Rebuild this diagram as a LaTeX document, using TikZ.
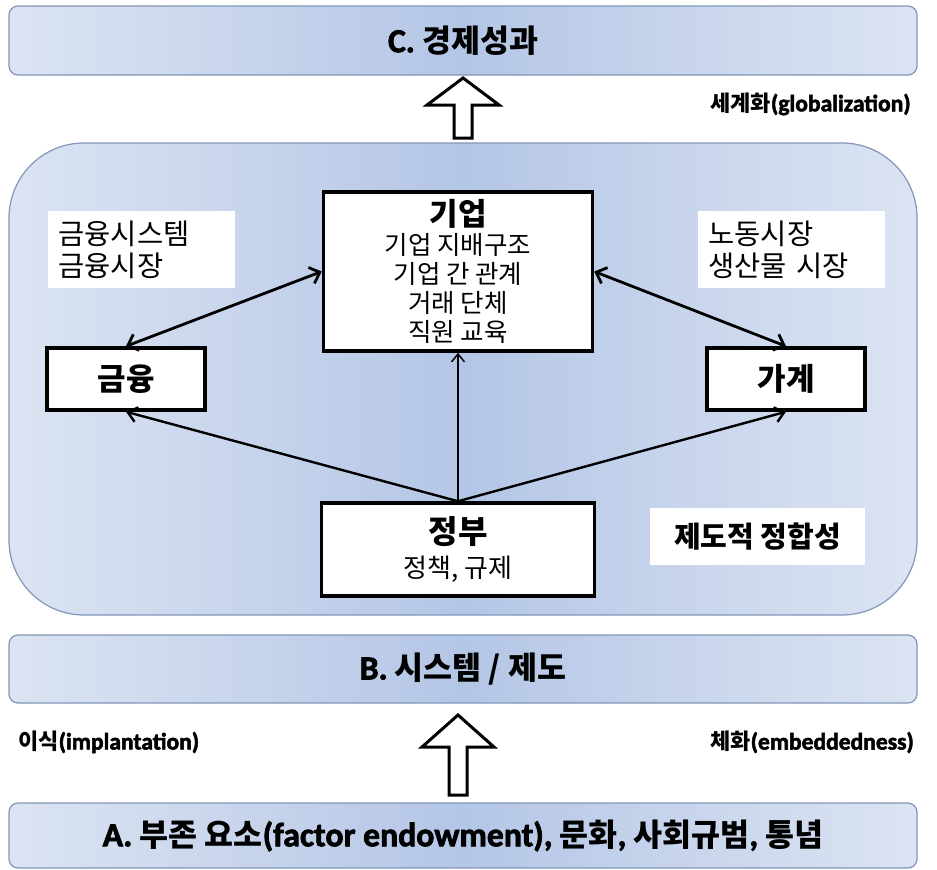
\documentclass[tikz,border=0pt]{standalone}
\usepackage{fontspec}
\setmainfont{Noto Sans CJK KR}
\newfontfamily\lat{Carlito}[FakeBold=2.2,Scale=1.07]
\usetikzlibrary{arrows.meta}

\definecolor{paleblue}{HTML}{DCE4F2}
\definecolor{midblue}{HTML}{B4C6E6}
\definecolor{frameblue}{HTML}{8196B9}

\begin{document}
\begin{tikzpicture}[x=1pt,y=-1pt]
\tikzset{band/.style={draw=frameblue,line width=1.2pt,rounded corners=9pt,left color=paleblue,right color=paleblue,middle color=midblue,minimum width=908pt,inner sep=0pt,font=\fontsize{31.5}{36}\selectfont\bfseries}}
\tikzset{actor/.style={draw=black,line width=3.5pt,fill=white,inner sep=0pt}}
\tikzset{note/.style={fill=white,inner sep=0pt}}
\tikzset{side/.style={anchor=west,inner sep=0pt,font=\fontsize{22}{24}\selectfont\bfseries}}
\tikzset{link/.style={line width=2.8pt,{Straight Barb[length=9pt,width=17pt]}-{Straight Barb[length=9pt,width=17pt]}}}
\tikzset{rule/.style={line width=2.4pt,-{Straight Barb[length=9pt,width=15pt]}}}
\tikzset{pics/blockup/.style 2 args={code={
  \draw[line width=3pt,fill=white] (0,0) -- (36,#1) -- (9,#1) -- (9,#2) -- (-9,#2) -- (-9,#1) -- (-36,#1) -- cycle;}}}

\useasboundingbox (0,0) rectangle (937,870);

% bands
\node[band,minimum height=69pt] (perf) at (463,40.5) {{\lat C.} 경제성과};
\node[band,minimum height=68pt] (inst) at (463,669) {{\lat B.} 시스템 / 제도};
\node[band,minimum height=65pt] (base) at (463,835.5) {{\lat A.} 부존 요소{\lat (factor endowment),} 문화{\lat ,} 사회규범{\lat ,} 통념};

% block arrows
\pic at (463,78) {blockup={27}{60}};
\pic at (458,715) {blockup={32}{80}};
\node[side] (glob) at (710,104) {세계화{\lat (globalization)}};
\node[side] (impl) at (18,742) {이식{\lat (implantation)}};
\node[side] (embd) at (710,742) {체화{\lat (embeddedness)}};

% system panel
\node[draw=frameblue,line width=1.2pt,rounded corners=75pt,left color=paleblue,right color=paleblue,middle color=midblue,minimum width=908pt,minimum height=472pt] (panel) at (463,379) {};

\node[note,minimum width=187pt,minimum height=77pt,align=left,text width=166pt,font=\fontsize{28.5}{32}\selectfont] (fin) at (141.5,249.5) {금융시스템\\금융시장};
\node[note,minimum width=187pt,minimum height=77pt,align=left,text width=166pt,font=\fontsize{28.5}{32}\selectfont] (mkt) at (791.5,249.5) {노동시장\\생산물 시장};
\node[note,minimum width=215pt,minimum height=57pt,font=\fontsize{29}{30}\selectfont\bfseries] (fit) at (757.5,536.5) {제도적 정합성};

\node[actor,minimum width=269pt,minimum height=159pt,align=center,font=\fontsize{25.5}{29}\selectfont] (firm) at (458,271.5)
  {{\fontsize{31}{31}\selectfont\bfseries 기업}\\기업 지배구조\\기업 간 관계\\거래 단체\\직원 교육};
\node[actor,minimum width=158pt,minimum height=62pt,font=\fontsize{31}{36}\selectfont\bfseries] (bank) at (126,379) {금융};
\node[actor,minimum width=158pt,minimum height=62pt,font=\fontsize{31}{36}\selectfont\bfseries] (home) at (786,379) {가계};
\node[actor,minimum width=273pt,minimum height=93pt,align=center,font=\fontsize{26}{34}\selectfont] (govt) at (458,549.5)
  {{\fontsize{32}{32}\selectfont\bfseries 정부}\\정책, 규제};

% links
\draw[link] (firm.west) -- (bank.north);
\draw[link] (firm.east) -- (home.north);
\draw[rule] (govt.north) -- (bank.south);
\draw[rule] (govt.north) -- (home.south);
\draw[line width=1.5pt,-{Straight Barb[length=8pt,width=13pt]}] (govt.north) -- (firm.south);

\end{tikzpicture}
\end{document}
